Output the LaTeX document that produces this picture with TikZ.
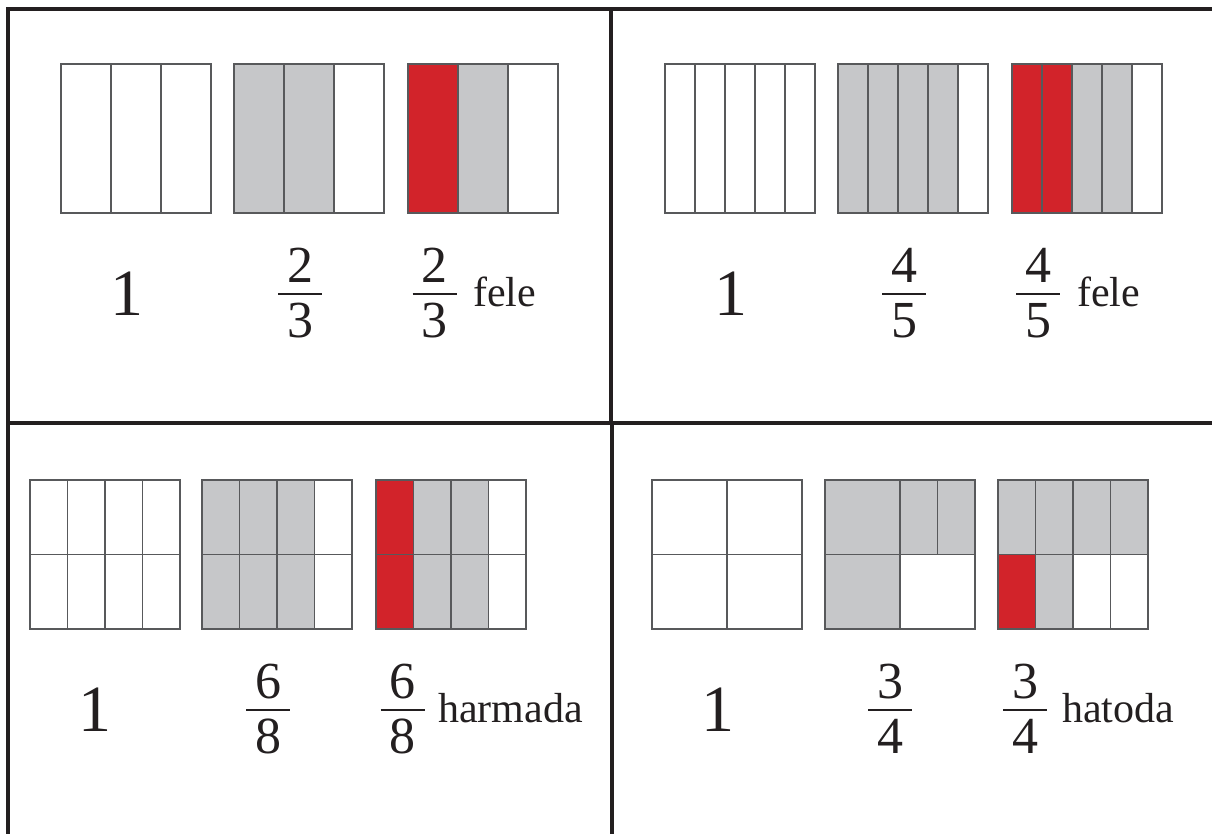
\documentclass[tikz,border=0pt]{standalone}
\usepackage{fontspec}
\setmainfont{Liberation Serif}
\definecolor{fillg}{HTML}{C6C7C9}
\definecolor{fillr}{HTML}{D2232A}
\definecolor{framec}{HTML}{231F20}
\definecolor{edgec}{HTML}{58595B}
\newcommand\cellrow[5]{%
  \foreach \c [count=\i from 0] in {#5} {%
    \draw[cell,fill=\c] ({#1+\i*#4},#2) rectangle ++(#4,#3);}}
\newcommand\frc[5]{%
  \node[dig] (#1n) at (#2,#3) {#4};
  \coordinate (#1l) at ({#2-22},{#3+12});
  \coordinate (#1r) at ({#2+22},{#3+12});
  \draw[fracbar] (#1l) -- (#1r);
  \node[dig] (#1d) at (#2,{#3+55}) {#5};}
\begin{document}
\begin{tikzpicture}[x=1pt,y=-1pt,
  cell/.style={draw=edgec,line width=1.4pt},
  frameline/.style={draw=framec,line width=3.2pt},
  big/.style={font=\fontsize{66}{66}\selectfont,anchor=base,inner sep=0pt,text=framec},
  dig/.style={font=\fontsize{52}{52}\selectfont,anchor=base,inner sep=0pt,text=framec},
  word/.style={font=\fontsize{42}{42}\selectfont,anchor=base west,inner sep=0pt,text=framec},
  fracbar/.style={draw=framec,line width=1.6pt}]
\useasboundingbox (0,0) rectangle (1212,833);
\clip (0,0) rectangle (1212,833);
\fill[white] (0,0) rectangle (1212,833);
% frames
\draw[frameline] (1300,9) -- (8,9) -- (8,900);
\draw[frameline] (611,9) -- (611,423);
\draw[frameline] (8,423) -- (1300,423);
\draw[frameline] (612,423) -- (612,900);
% top-left
\cellrow{61}{64}{149}{50}{white,white,white}
\cellrow{234}{64}{149}{50}{fillg,fillg,white}
\cellrow{408}{64}{149}{50}{fillr,fillg,white}
% top-right
\cellrow{665}{64}{149}{30}{white,white,white,white,white}
\cellrow{838}{64}{149}{30}{fillg,fillg,fillg,fillg,white}
\cellrow{1012}{64}{149}{30}{fillr,fillr,fillg,fillg,white}
% bottom-left
\cellrow{30}{480}{74.5}{37.5}{white,white,white,white}
\cellrow{30}{554.5}{74.5}{37.5}{white,white,white,white}
\cellrow{202}{480}{74.5}{37.5}{fillg,fillg,fillg,white}
\cellrow{202}{554.5}{74.5}{37.5}{fillg,fillg,fillg,white}
\cellrow{376}{480}{74.5}{37.5}{fillr,fillg,fillg,white}
\cellrow{376}{554.5}{74.5}{37.5}{fillr,fillg,fillg,white}
% bottom-right
\cellrow{652}{480}{74.5}{75}{white,white}
\cellrow{652}{554.5}{74.5}{75}{white,white}
\cellrow{825}{480}{74.5}{75}{fillg}
\cellrow{900}{480}{74.5}{37.5}{fillg,fillg}
\cellrow{825}{554.5}{74.5}{75}{fillg,white}
\cellrow{998}{480}{74.5}{37.5}{fillg,fillg,fillg,fillg}
\cellrow{998}{554.5}{74.5}{37.5}{fillr,fillg,white,white}
% texts top-left
\node[big] (oneA) at (127,315) {1};
\frc{fA}{300}{282}{2}{3}
\frc{gA}{434.5}{282}{2}{3}
\node[word] (wA) at (473,306) {fele};
% top-right
\node[big] (oneB) at (731,315) {1};
\frc{fB}{904}{282}{4}{5}
\frc{gB}{1038}{282}{4}{5}
\node[word] (wB) at (1077,306) {fele};
% bottom-left
\node[big] (oneC) at (95,731) {1};
\frc{fC}{268}{698}{6}{8}
\frc{gC}{402.5}{698}{6}{8}
\node[word] (wC) at (438,722) {harmada};
% bottom-right
\node[big] (oneD) at (718,731) {1};
\frc{fD}{890}{698}{3}{4}
\frc{gD}{1025}{698}{3}{4}
\node[word] (wD) at (1062,722) {hatoda};
\end{tikzpicture}
\end{document}
